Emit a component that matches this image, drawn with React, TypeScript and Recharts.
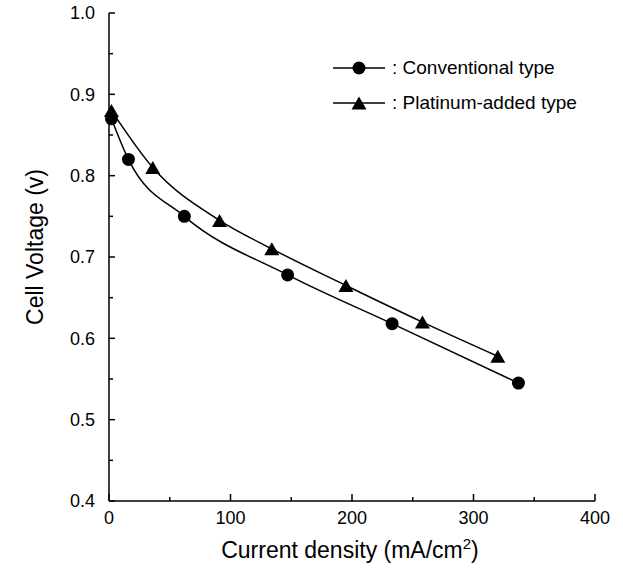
import React from "react"
import { LineChart, Line, XAxis, YAxis, Label } from "recharts"

const convCurrent = [2, 16, 62, 147, 233, 337]
const convVoltage = [0.87, 0.82, 0.75, 0.678, 0.618, 0.545]
const platCurrent = [2, 36, 91, 134, 195, 258, 320]
const platVoltage = [0.88, 0.81, 0.745, 0.71, 0.665, 0.62, 0.578]

const xTicks = [0, 50, 100, 150, 200, 250, 300, 350, 400]
const yTicks = [0.4, 0.45, 0.5, 0.55, 0.6, 0.65, 0.7, 0.75, 0.8, 0.85, 0.9, 0.95, 1.0]

const conventional = convCurrent.map((x, i) => ({ x, v: convVoltage[i] }))
const platinum = platCurrent.map((x, i) => ({ x, v: platVoltage[i] }))

const FONT = '"Liberation Sans", Arial, sans-serif'

const BottomTick = (props: any) => {
  const { x, y, payload } = props
  const major = payload.value % 100 === 0
  return (
    <g>
      <line x1={x} x2={x} y1={y} y2={y - (major ? 7 : 4)} stroke="#000" strokeWidth={1.5} />
      {major && (
        <text x={x} y={y + 23} textAnchor="middle" fontSize={18} fontFamily={FONT} fill="#000">
          {payload.value}
        </text>
      )}
    </g>
  )
}

const LeftTick = (props: any) => {
  const { x, y, payload } = props
  const major = Math.round(payload.value * 100) % 10 === 0
  return (
    <g>
      <line x1={x} x2={x + (major ? 6 : 4)} y1={y} y2={y} stroke="#000" strokeWidth={1.5} />
      {major && (
        <text x={x - 14} y={y} dy="0.36em" textAnchor="end" fontSize={18} fontFamily={FONT} fill="#000">
          {payload.value.toFixed(1)}
        </text>
      )}
    </g>
  )
}

const RightTick = (props: any) => {
  const { x, y, payload } = props
  const major = Math.round(payload.value * 100) % 10 === 0
  return <line x1={x} x2={x - (major ? 6 : 4)} y1={y} y2={y} stroke="#000" strokeWidth={1.5} />
}

const Triangle = (props: any) => {
  const { cx, cy, index } = props
  if (cx == null || cy == null) return <g key={index} />
  return (
    <path
      key={index}
      d={`M${cx},${cy - 6.5} L${cx + 7.5},${cy + 6.5} L${cx - 7.5},${cy + 6.5} Z`}
      fill="#000"
    />
  )
}

const legendRows = [
  { name: ": Conventional type", marker: "circle" },
  { name: ": Platinum-added type", marker: "triangle" },
]

const ChartLegend = () => (
  <div
    style={{
      position: "absolute",
      left: 333,
      top: 50,
      fontFamily: FONT,
      fontSize: 19,
      color: "#000",
      lineHeight: 1,
    }}
  >
    {legendRows.map((r) => (
      <div key={r.name} style={{ display: "flex", alignItems: "center", height: 35 }}>
        <svg width={52} height={16} style={{ display: "block" }}>
          <line x1={0} x2={52} y1={8} y2={8} stroke="#000" strokeWidth={1.5} />
          {r.marker === "circle" ? (
            <circle cx={26} cy={8} r={6.5} fill="#000" />
          ) : (
            <path d="M26,1.5 L33.5,14.5 L18.5,14.5 Z" fill="#000" />
          )}
        </svg>
        <span style={{ marginLeft: 7, whiteSpace: "nowrap" }}>{r.name}</span>
      </div>
    ))}
  </div>
)

const XTitle = () => (
  <text x={350} y={558} textAnchor="middle" fontSize={23} fontFamily={FONT} fill="#000">
    Current density (mA/cm
    <tspan fontSize={15} dy={-9}>2</tspan>
    <tspan dy={9}>)</tspan>
  </text>
)

const YTitle = () => (
  <text
    x={43}
    y={247}
    transform="rotate(-90 43 247)"
    textAnchor="middle"
    fontSize={23}
    fontFamily={FONT}
    fill="#000"
  >
    Cell Voltage (v)
  </text>
)

export default function App() {
  return (
    <div style={{ position: "absolute", left: 0, top: 0, width: 623, height: 573, background: "#fff" }}>
      <LineChart width={623} height={573} margin={{ top: 13, right: 28, bottom: 0, left: 0 }}>
        <XAxis
          type="number"
          dataKey="x"
          domain={[0, 400]}
          ticks={xTicks}
          interval={0}
          height={72}
          tickSize={0}
          tickMargin={0}
          tickLine={false}
          tick={<BottomTick />}
          axisLine={{ stroke: "#000", strokeWidth: 1.5 }}
        >
          <Label content={<XTitle />} />
        </XAxis>
        <XAxis
          xAxisId="top"
          orientation="top"
          type="number"
          domain={[0, 400]}
          height={0}
          tick={false}
          tickLine={false}
          axisLine={{ stroke: "#000", strokeWidth: 1.5 }}
        />
        <YAxis
          type="number"
          domain={[0.4, 1.0]}
          ticks={yTicks}
          interval={0}
          width={109}
          tickSize={0}
          tickMargin={0}
          tickLine={false}
          tick={<LeftTick />}
          axisLine={{ stroke: "#000", strokeWidth: 1.5 }}
        >
          <Label content={<YTitle />} />
        </YAxis>
        <YAxis
          yAxisId="right"
          orientation="right"
          type="number"
          domain={[0.4, 1.0]}
          ticks={yTicks}
          interval={0}
          width={0}
          tickSize={0}
          tickMargin={0}
          tickLine={false}
          tick={<RightTick />}
          axisLine={{ stroke: "#000", strokeWidth: 1.5 }}
        />
        <Line
          data={conventional}
          dataKey="v"
          name="Conventional type"
          type="monotone"
          stroke="#000"
          strokeWidth={1.5}
          dot={{ r: 6.5, fill: "#000", stroke: "none" }}
          isAnimationActive={false}
        />
        <Line
          data={platinum}
          dataKey="v"
          name="Platinum-added type"
          type="monotone"
          stroke="#000"
          strokeWidth={1.5}
          dot={<Triangle />}
          isAnimationActive={false}
        />
      </LineChart>
      <ChartLegend />
    </div>
  )
}
